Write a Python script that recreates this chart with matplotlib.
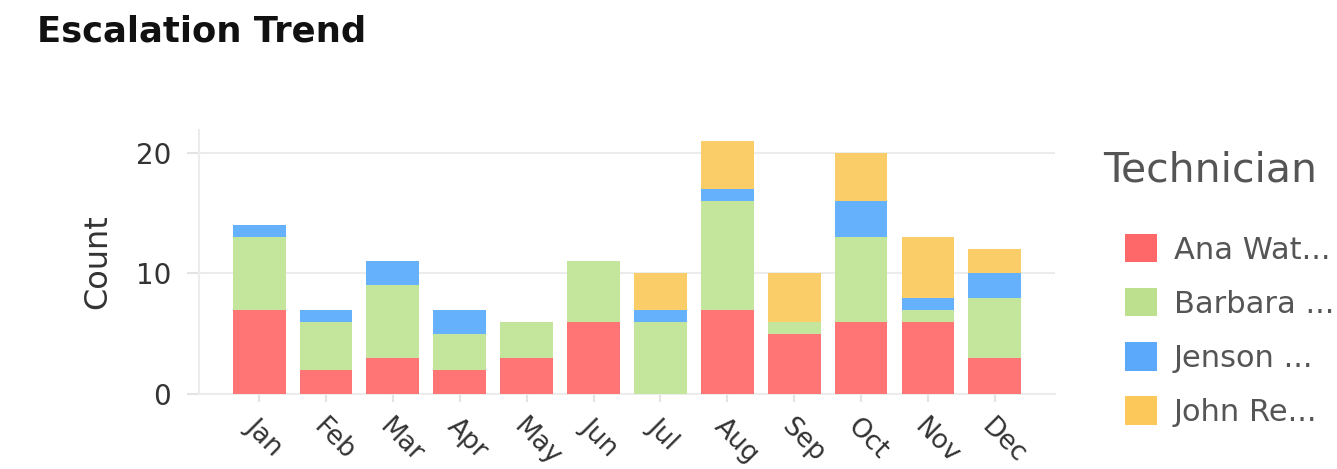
import matplotlib
matplotlib.use("Agg")
import matplotlib.pyplot as plt
import numpy as np
from matplotlib.patches import Patch

months = ["Jan", "Feb", "Mar", "Apr", "May", "Jun", "Jul", "Aug", "Sep", "Oct", "Nov", "Dec"]
technicians = ["Ana Wat...", "Barbara ...", "Jenson ...", "John Re..."]
ana = [7, 2, 3, 2, 3, 6, 0, 7, 5, 6, 6, 3]
barbara = [6, 4, 6, 3, 3, 5, 6, 9, 1, 7, 1, 5]
jenson = [1, 1, 2, 2, 0, 0, 1, 1, 0, 3, 1, 2]
john = [0, 0, 0, 0, 0, 0, 3, 4, 4, 4, 5, 2]

bar_colors = ["#ff7575", "#c4e59c", "#66b1fb", "#facd69"]
legend_colors = ["#ff6868", "#bde08f", "#5aa9fa", "#fdc85a"]

plt.rcParams["font.family"] = ["DejaVu Sans"]

fig = plt.figure(figsize=(13.37, 4.69), dpi=100)
ax = fig.add_axes([0.1488, 0.160, 0.6403, 0.5628])

x = np.arange(len(months))
bottom = np.zeros(len(months))
for vals, col in zip([ana, barbara, jenson, john], bar_colors):
    v = np.array(vals, dtype=float)
    ax.bar(x, v, width=0.79, bottom=bottom, color=col, linewidth=0, zorder=3)
    bottom += v

ax.set_xlim(-0.9, 11.9)
ax.set_ylim(0, 21.9)
ax.set_yticks([0, 10, 20])
ax.grid(axis="y", color="#ececec", linewidth=1.5, zorder=0)
for s in ["top", "right"]:
    ax.spines[s].set_visible(False)
ax.spines["left"].set_color("#ececec")
ax.spines["bottom"].set_color("#ececec")
ax.spines["left"].set_linewidth(1.5)
ax.spines["bottom"].set_linewidth(1.5)

ax.set_xticks(x)
ax.set_xticklabels(months, rotation=-45, ha="left", va="top", rotation_mode="anchor",
                   fontsize=19, color="#333333")
ax.tick_params(axis="x", length=6, width=1.5, color="#e4e4e4", pad=8)
ax.tick_params(axis="y", length=9, width=1.5, color="#e4e4e4", labelsize=20,
               labelcolor="#333333", pad=11)
ax.set_ylabel("Count", fontsize=23, color="#333333", labelpad=16)

fig.text(0.028, 0.932, "Escalation Trend", fontsize=25.5, fontweight="bold",
         color="#111111", va="center", ha="left")

# legend title drawn separately so the entries can sit indented under it
fig.text(1103 / 1337, 1 - 170 / 469, "Technician", fontsize=29.5, color="#555555",
         va="center", ha="left")
handles = [Patch(facecolor=c, edgecolor="none") for c in legend_colors]
leg = ax.legend(handles, technicians, loc="upper left",
                bbox_to_anchor=((1125 - 199) / 856, (394 - 234) / 264),
                frameon=False, fontsize=22, handlelength=1.05, handleheight=1.05,
                handletextpad=0.55, labelspacing=0.77, borderaxespad=0, borderpad=0)
for t in leg.get_texts():
    t.set_color("#555555")

fig.savefig("out.png", dpi=100)
